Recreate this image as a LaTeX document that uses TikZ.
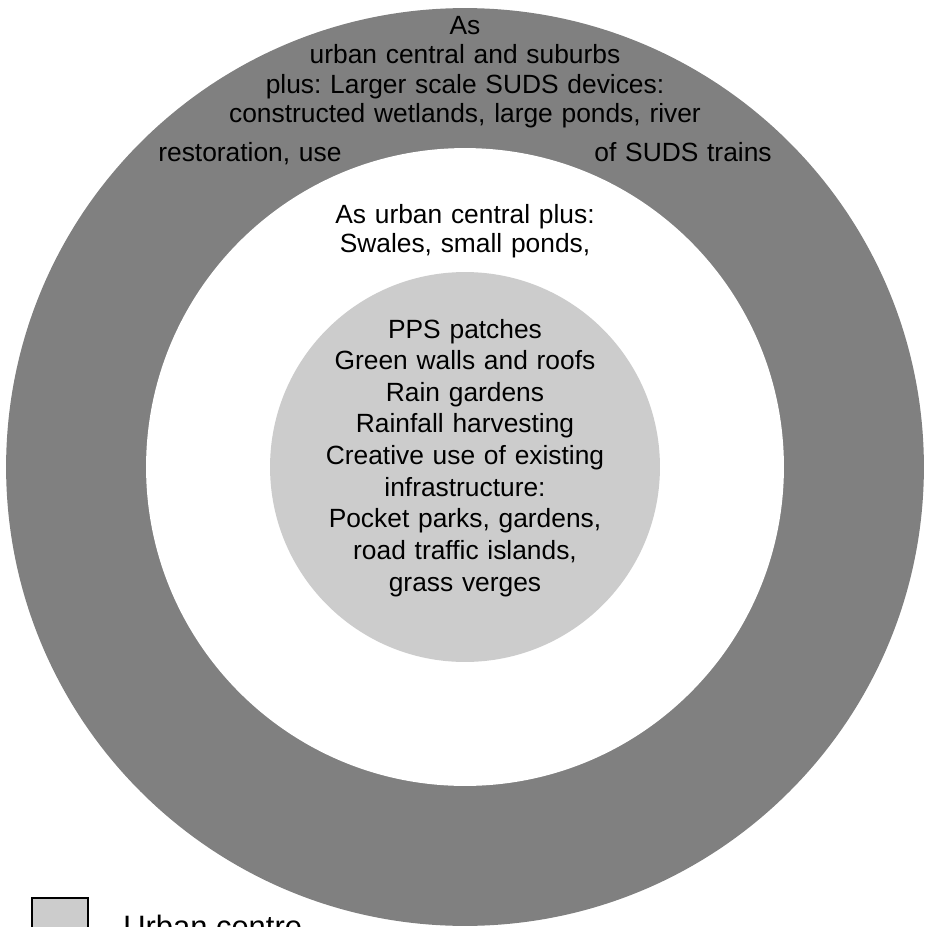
\documentclass[tikz,border=0pt]{standalone}
\usepackage{fontspec}
\setmainfont{Liberation Sans}
\usepackage{tikz}
\usetikzlibrary{positioning}
\definecolor{ringdark}{HTML}{808080}
\definecolor{ringlight}{HTML}{CCCCCC}
\frenchspacing

\begin{document}
\begin{tikzpicture}[x=0.02cm, y=-0.02cm,
        ring/.style={circle, inner sep=0pt},
        ringtext/.style={text width=14cm, align=center, anchor=base, inner sep=0pt}]
        % Frame
        \path[use as bounding box, clip] (0,0) rectangle (925,927);

        % Rings
        \node[ring, fill=ringdark, minimum size=18.36cm] (outer) at (465,467) {};
        \node[ring, fill=white, minimum size=12.76cm] (middle) at (outer.center) {};
        \node[ring, fill=ringlight, minimum size=7.8cm] (centre) at (outer.center) {};

        % Texts
        \node[ringtext, font=\fontsize{15}{16.8}\selectfont] (outertext) at (465,34)
            {As\\ urban central and suburbs\\ plus: Larger scale SUDS devices:\\
             constructed wetlands, large ponds, river\\[5.3pt]
             restoration, use\hspace{5.06cm}of SUDS trains};
        \node[ringtext, font=\fontsize{15}{16.7}\selectfont] (middletext) at (465,223)
            {As urban central plus:\\ Swales, small ponds,};
        \node[ringtext, font=\fontsize{15}{18}\selectfont] (centretext) at (465,338)
            {PPS patches\\ Green walls and roofs\\ Rain gardens\\ Rainfall harvesting\\
             Creative use of existing\\ infrastructure:\\ Pocket parks, gardens,\\
             road traffic islands,\\ grass verges};

        % Legend
        \node[draw, line width=1.1pt, fill=ringlight, minimum size=1.12cm, inner sep=0pt] (key) at (60,926) {};
        \node[right=0.68cm of key, inner sep=0pt, font=\fontsize{17.6}{20}\selectfont] (keylabel) {Urban centre};
    \end{tikzpicture}
\end{document}
